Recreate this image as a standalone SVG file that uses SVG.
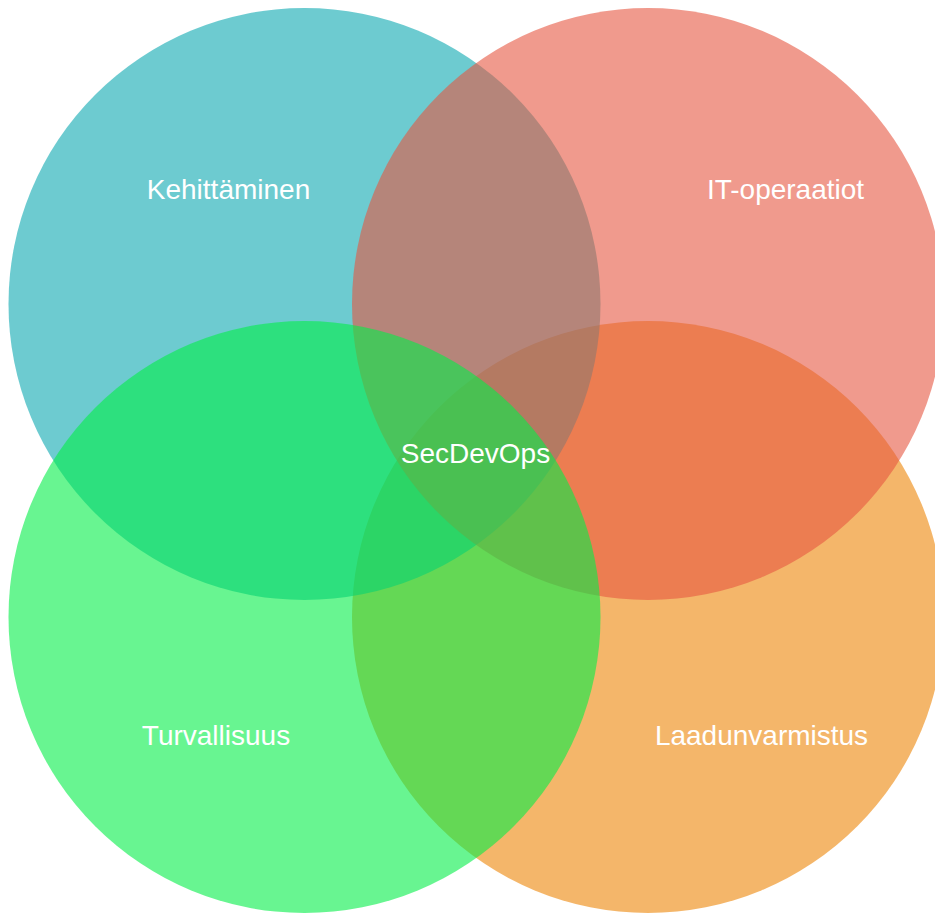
<svg xmlns="http://www.w3.org/2000/svg" width="935" height="913" viewBox="0 0 935 913">
<style>
.c{fill-opacity:0.6;stroke:none}
.t{font-family:"Liberation Sans",Arial,Helvetica,sans-serif;font-size:28px;fill:#ffffff;text-anchor:middle}
</style>
<rect width="935" height="913" fill="#ffffff"/>
<g id="laadunvarmistus"><ellipse class="c" cx="648" cy="617" rx="296" ry="296" fill="#ED8507"/></g>
<g id="kehittaminen"><ellipse class="c" cx="304.5" cy="304" rx="296" ry="296" fill="#0CA8B1"/></g>
<g id="it-operaatiot"><ellipse class="c" cx="648" cy="304" rx="296" ry="296" fill="#E65741"/></g>
<g id="turvallisuus"><ellipse class="c" cx="304.5" cy="617" rx="296" ry="296" fill="#03EE48"/></g>
<g id="labels">
<text class="t" x="228.5" y="199">Kehittäminen</text>
<text class="t" x="785.5" y="199">IT-operaatiot</text>
<text class="t" x="216" y="745">Turvallisuus</text>
<text class="t" x="761.5" y="745">Laadunvarmistus</text>
<text class="t" x="475.5" y="463">SecDevOps</text>
</g>
<g id="connectors"></g>
</svg>
